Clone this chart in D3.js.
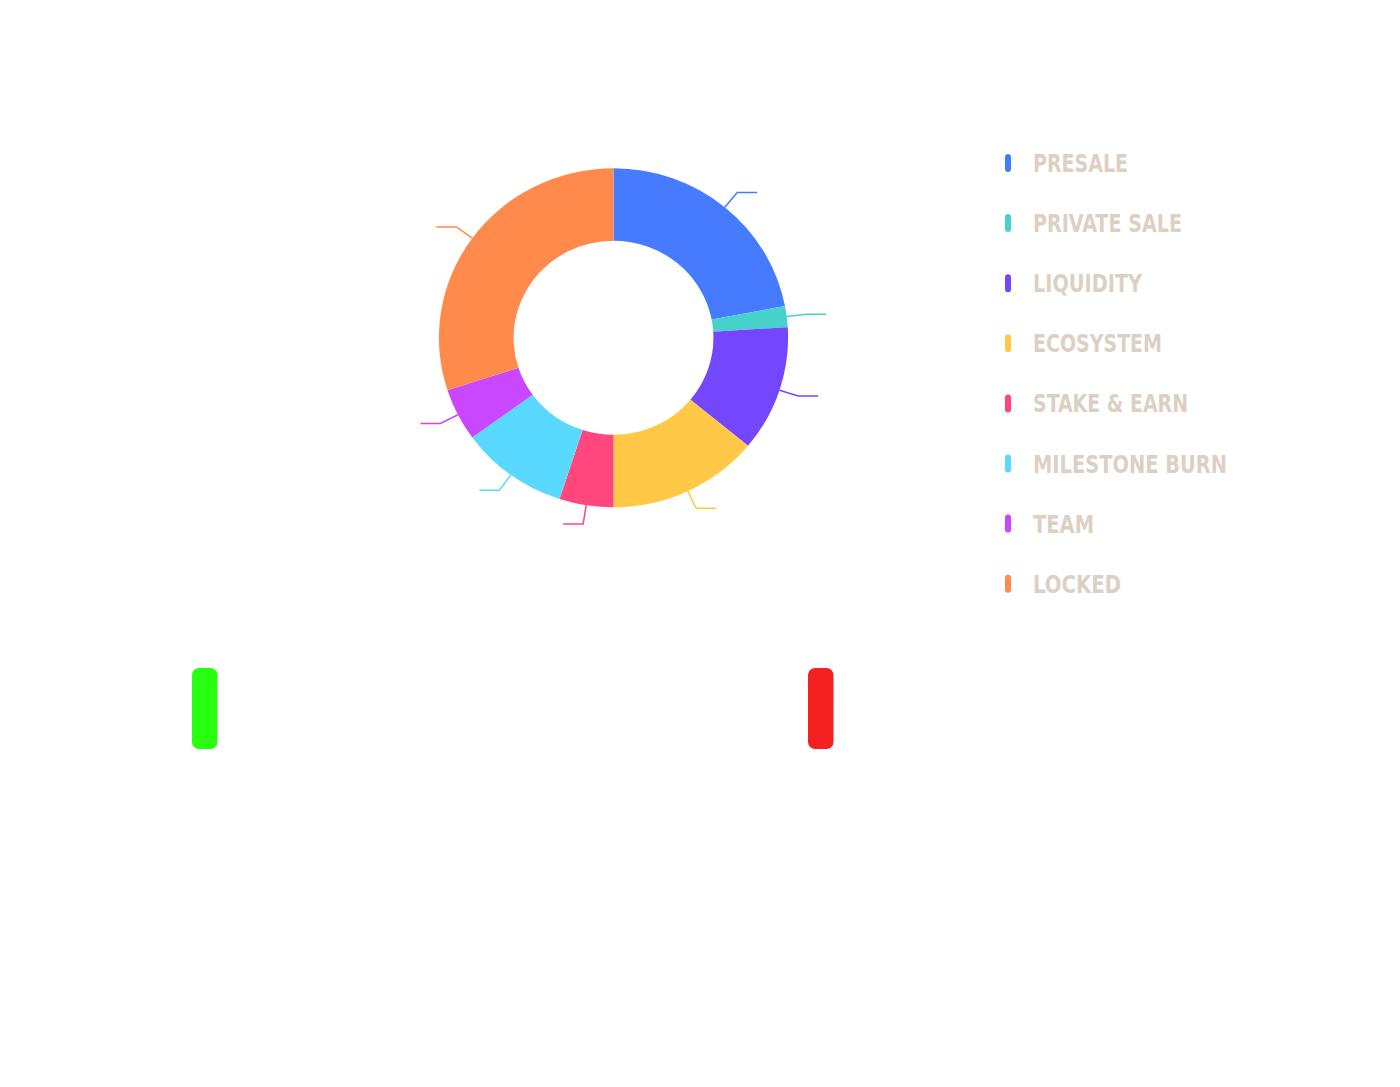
<!DOCTYPE html>
<html>
<head>
<meta charset="utf-8">
<script src="https://cdn.jsdelivr.net/npm/d3@7"></script>
<style>
  html, body { margin: 0; padding: 0; background: #ffffff; }
  svg { display: block; }
</style>
</head>
<body>
<svg id="chart" width="1400" height="1087"></svg>
<script>
// ---- data ----
const categories = ["PRESALE", "PRIVATE SALE", "LIQUIDITY", "ECOSYSTEM", "STAKE & EARN", "MILESTONE BURN", "TEAM", "LOCKED"];
const values = [22, 2, 12, 14, 5, 10, 5, 30];
const colors = ["#477BFF", "#47D1CB", "#7447FF", "#FFC947", "#FF477E", "#5AD9FF", "#C847FF", "#FF8A4C"];
const legendWidths = [95, 149, 109, 129, 155, 194, 61, 88];
const bars = ["up", "down"];
const barColors = ["#28FF10", "#F42121"];

// ---- layout ----
const svg = d3.select("#chart");
const cx = 613.5, cy = 337.8;
const R = 169.5, r0 = 97;
const sx = 1.03; // slight horizontal stretch seen in reference

const pie = d3.pie().value(d => d).sort(null);
const arcs = pie(values);
const arc = d3.arc().innerRadius(r0).outerRadius(R);

const g = svg.append("g").attr("transform", `translate(${cx},${cy}) scale(${sx},1)`);
g.selectAll("path.slice")
  .data(arcs)
  .enter().append("path")
  .attr("class", "slice")
  .attr("d", arc)
  .attr("fill", (d, i) => colors[i]);

// leader lines
const len1 = 19, len2 = 20;
function pt(a, rad) { return [cx + sx * rad * Math.sin(a), cy - rad * Math.cos(a)]; }
svg.append("g").selectAll("polyline")
  .data(arcs)
  .enter().append("polyline")
  .attr("fill", "none")
  .attr("stroke", (d, i) => colors[i])
  .attr("stroke-width", 1.5)
  .attr("points", d => {
    const a = (d.startAngle + d.endAngle) / 2;
    const p1 = pt(a, R);
    const p2 = pt(a, R + len1);
    const dir = Math.sin(a) >= 0 ? 1 : -1;
    const p3 = [p2[0] + dir * len2, p2[1]];
    return [p1, p2, p3].map(p => p.join(",")).join(" ");
  });

// legend
const lg = svg.append("g");
const rowY = i => 163 + i * 60.1;
lg.selectAll("rect")
  .data(categories)
  .enter().append("rect")
  .attr("x", 1005)
  .attr("y", (d, i) => rowY(i) - 9)
  .attr("width", 6)
  .attr("height", 18)
  .attr("rx", 3)
  .attr("fill", (d, i) => colors[i]);
lg.selectAll("text")
  .data(categories)
  .enter().append("text")
  .attr("x", 1033)
  .attr("y", (d, i) => rowY(i) + 9)
  .attr("font-family", "'DejaVu Sans Condensed', 'DejaVu Sans', sans-serif")
  .attr("font-weight", "bold")
  .attr("font-size", 24)
  .attr("fill", "#DCD0C4")
  .attr("textLength", (d, i) => legendWidths[i])
  .attr("lengthAdjust", "spacingAndGlyphs")
  .text(d => d);

// bottom markers
const bx = d3.scalePoint().domain(bars).range([192, 808]);
svg.append("g").selectAll("rect")
  .data(bars)
  .enter().append("rect")
  .attr("x", d => bx(d))
  .attr("y", 668)
  .attr("width", 25.5)
  .attr("height", 81)
  .attr("rx", 7)
  .attr("fill", (d, i) => barColors[i]);
</script>
</body>
</html>
